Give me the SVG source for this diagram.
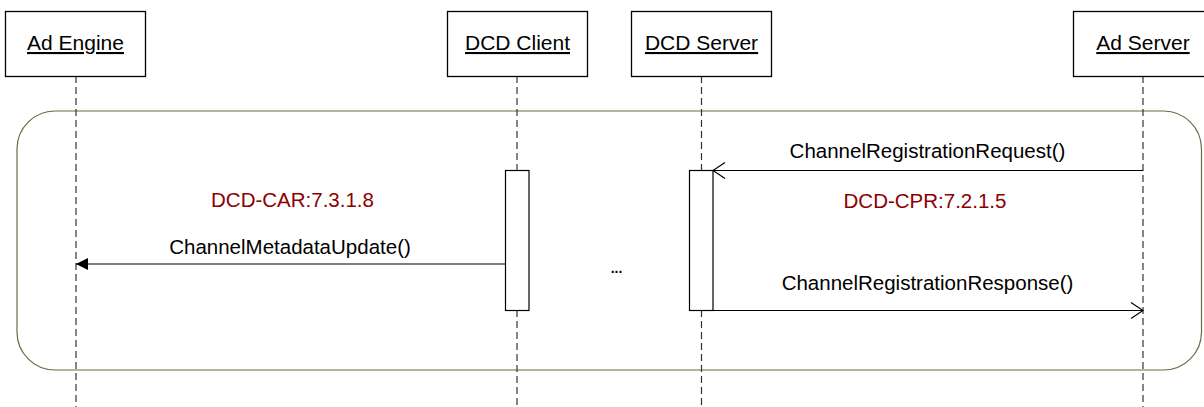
<svg xmlns="http://www.w3.org/2000/svg" width="1204" height="407" viewBox="0 0 1204 407">
<style>
.box{fill:#fff;stroke:#000;stroke-width:1.3}
.title{font-family:"Liberation Sans",Arial,sans-serif;font-size:21px;fill:#000;text-anchor:middle;text-decoration:underline}
.life{stroke:#333;stroke-width:1.2;stroke-dasharray:7,4;fill:none}
.act{fill:#fff;stroke:#000;stroke-width:1.2}
.msg{font-family:"Liberation Sans",Arial,sans-serif;font-size:20.5px;fill:#000;text-anchor:middle}
.ref{font-family:"Liberation Sans",Arial,sans-serif;font-size:20.5px;fill:#8b0000;text-anchor:middle}
.line{stroke:#000;stroke-width:1.2;fill:none}
.frame{fill:none;stroke:#6b6b3f;stroke-width:1.2}
</style>
<defs>
<marker id="open" viewBox="0 0 14 20" refX="13" refY="10" markerWidth="14" markerHeight="20" markerUnits="userSpaceOnUse" orient="auto">
<path d="M1,2 L13,10 L1,18" fill="none" stroke="#000" stroke-width="1.2"/>
</marker>
<marker id="filled" viewBox="0 0 12 12" refX="12" refY="6" markerWidth="12" markerHeight="12" markerUnits="userSpaceOnUse" orient="auto">
<path d="M0,0 L12,6 L0,12 Z" fill="#000"/>
</marker>
</defs>
<rect class="frame" x="17" y="111" width="1184.5" height="259" rx="38" ry="38"/>
<g id="lifelines">
<line class="life" x1="76" y1="76" x2="76" y2="407"/>
<line class="life" x1="517" y1="76" x2="517" y2="170"/>
<line class="life" x1="517" y1="310" x2="517" y2="407"/>
<line class="life" x1="701.5" y1="76" x2="701.5" y2="170"/>
<line class="life" x1="701.5" y1="310" x2="701.5" y2="407"/>
<line class="life" x1="1143" y1="76" x2="1143" y2="407"/>
</g>
<g id="ad-engine">
<rect class="box" x="5.5" y="11.5" width="140" height="65"/>
<text class="title" x="75.5" y="50">Ad Engine</text>
</g>
<g id="dcd-client">
<rect class="box" x="447.5" y="11.5" width="140" height="65"/>
<text class="title" x="517.5" y="50">DCD Client</text>
</g>
<g id="dcd-server">
<rect class="box" x="631.5" y="11.5" width="140" height="65"/>
<text class="title" x="701.5" y="50">DCD Server</text>
</g>
<g id="ad-server">
<rect class="box" x="1073.5" y="11.5" width="140" height="65"/>
<text class="title" x="1143" y="50">Ad Server</text>
</g>
<g id="dcd-client-activation">
<rect class="act" x="505.5" y="170.5" width="23.5" height="140"/>
</g>
<g id="dcd-server-activation">
<rect class="act" x="689.5" y="170.5" width="23.5" height="140"/>
</g>
<g id="connectors">
<line class="line" x1="1143" y1="170.5" x2="713" y2="170.5" marker-end="url(#open)"/>
<line class="line" x1="505.5" y1="264" x2="76" y2="264" marker-end="url(#filled)"/>
<line class="line" x1="713" y1="310.5" x2="1143" y2="310.5" marker-end="url(#open)"/>
</g>
<g id="labels">
<text class="msg" x="927.5" y="158">ChannelRegistrationRequest()</text>
<text class="ref" x="925" y="208">DCD-CPR:7.2.1.5</text>
<text class="msg" x="927.5" y="290">ChannelRegistrationResponse()</text>
<text class="ref" x="292.5" y="207">DCD-CAR:7.3.1.8</text>
<text class="msg" x="290" y="254">ChannelMetadataUpdate()</text>
<text class="msg" x="616.5" y="273" style="font-size:14px;font-weight:bold">...</text>
</g>
</svg>
